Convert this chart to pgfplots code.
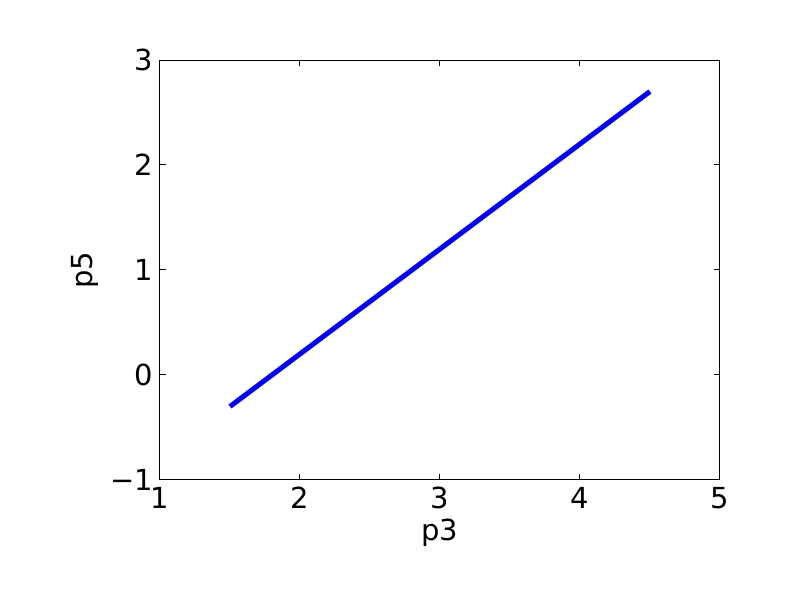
\documentclass[border=0pt]{standalone}
\usepackage{fontspec}
\setmainfont{DejaVu Sans}
\usepackage{pgfplots}
\pgfplotsset{compat=1.18}
\begin{document}
\begin{tikzpicture}
\path[use as bounding box, fill=white] (0,0) rectangle (400pt,300pt);
\begin{axis}[
  at={(80pt,60pt)}, anchor=south west,
  scale only axis, width=280pt, height=210pt,
  xmin=1, xmax=5, ymin=-1, ymax=3,
  xtick={1,2,3,4,5}, ytick={-1,0,1,2,3},
  yticklabels={−1,0,1,2,3},
  tick align=inside, major tick length=2.8pt,
  axis line style={line width=0.5pt}, every tick/.style={black, line width=0.5pt},
  /pgf/number format/assume math mode=true,
  tick label style={font=\fontsize{14.5}{17}\selectfont},
  label style={font=\fontsize{14.5}{17}\selectfont},
  xlabel={p3}, ylabel={p5},
  xlabel style={yshift=2pt}, ylabel style={yshift=-1pt},
]
\addplot[blue, line width=2.5pt, no marks] coordinates {(1.5,-0.3) (4.5,2.7)};
\end{axis}
\end{tikzpicture}
\end{document}
